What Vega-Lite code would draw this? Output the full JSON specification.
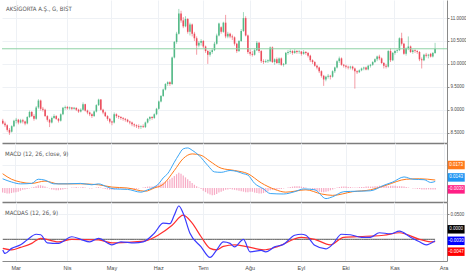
{
"$schema": "https://vega.github.io/schema/vega-lite/v6.json",
"padding": 0,
"spacing": 0,
"background": "#ffffff",
"config": {
  "view": {"stroke": null},
  "font": "Liberation Sans Narrow, DejaVu Sans Condensed, Arial Narrow, sans-serif",
  "title": {"fontSize": 6, "fontWeight": "normal", "color": "#555555", "anchor": "start", "frame": "group"},
  "axis": {"labelFont": "Liberation Sans, Arial, sans-serif", "labelOverlap": false, "labelBound": false, "labelFlush": false},
  "text": {"font": "Liberation Sans, Arial, sans-serif"}
},
"datasets": {
"px": [
{"d":"2017-02-21","o":8.76,"h":8.80,"l":8.68,"c":8.70,"hi":-0.010,"m":0.020,"s":0.031,"a":-0.021,"b":-0.018},
{"d":"2017-02-22","o":8.70,"h":8.74,"l":8.62,"c":8.66,"hi":-0.011,"a":-0.028},
{"d":"2017-02-23","o":8.66,"h":8.68,"l":8.52,"c":8.56,"hi":-0.012},
{"d":"2017-02-24","o":8.56,"h":8.60,"l":8.45,"c":8.50,"hi":-0.012},
{"d":"2017-02-27","o":8.52,"h":8.66,"l":8.50,"c":8.64,"hi":-0.011,"m":0.013,"s":0.019,"a":-0.018,"b":-0.021},
{"d":"2017-02-28","o":8.64,"h":8.78,"l":8.62,"c":8.76,"hi":-0.010},
{"d":"2017-03-01","o":8.76,"h":8.82,"l":8.70,"c":8.78,"hi":-0.009},
{"d":"2017-03-02","o":8.78,"h":8.80,"l":8.68,"c":8.72,"hi":-0.008},
{"d":"2017-03-03","o":8.72,"h":8.80,"l":8.70,"c":8.77,"hi":-0.006,"m":0.009,"s":0.013,"a":-0.011,"b":-0.016},
{"d":"2017-03-06","o":8.77,"h":8.80,"l":8.70,"c":8.74,"hi":-0.004},
{"d":"2017-03-07","o":8.74,"h":8.76,"l":8.66,"c":8.70,"hi":-0.003},
{"d":"2017-03-08","o":8.70,"h":8.86,"l":8.68,"c":8.84,"hi":-0.002,"a":-0.001},
{"d":"2017-03-09","o":8.84,"h":8.98,"l":8.82,"c":8.95,"hi":-0.001},
{"d":"2017-03-10","o":8.95,"h":8.97,"l":8.84,"c":8.86,"hi":0.001,"m":0.010,"s":0.010,"b":-0.008},
{"d":"2017-03-13","o":8.86,"h":8.90,"l":8.76,"c":8.80,"hi":0.002},
{"d":"2017-03-14","o":8.80,"h":9.08,"l":8.78,"c":9.05,"hi":0.004,"a":0.010},
{"d":"2017-03-15","o":9.05,"h":9.23,"l":9.02,"c":9.20,"hi":0.006,"m":0.019},
{"d":"2017-03-16","o":9.20,"h":9.22,"l":8.98,"c":9.02,"hi":0.006,"a":0.009,"b":0.002},
{"d":"2017-03-17","o":9.02,"h":9.06,"l":8.96,"c":9.00,"hi":0.005},
{"d":"2017-03-20","o":9.00,"h":9.02,"l":8.84,"c":8.86,"hi":0.003,"m":0.017,"s":0.015},
{"d":"2017-03-21","o":8.86,"h":8.88,"l":8.74,"c":8.78,"hi":0.001,"a":-0.007},
{"d":"2017-03-22","o":8.78,"h":8.80,"l":8.62,"c":8.72,"hi":-0.001},
{"d":"2017-03-23","o":8.72,"h":8.85,"l":8.70,"c":8.82,"hi":-0.003},
{"d":"2017-03-24","o":8.82,"h":8.90,"l":8.80,"c":8.86,"hi":-0.004,"m":0.009},
{"d":"2017-03-27","o":8.86,"h":8.88,"l":8.78,"c":8.80,"hi":-0.005},
{"d":"2017-03-28","o":8.80,"h":8.82,"l":8.72,"c":8.76,"hi":-0.005,"s":0.009,"a":-0.008,"b":-0.005},
{"d":"2017-03-29","o":8.76,"h":8.92,"l":8.74,"c":8.90,"hi":-0.004},
{"d":"2017-03-30","o":8.90,"h":9.06,"l":8.88,"c":9.04,"hi":-0.003},
{"d":"2017-03-31","o":9.04,"h":9.09,"l":9.00,"c":9.06,"hi":-0.002},
{"d":"2017-04-03","o":9.06,"h":9.08,"l":9.00,"c":9.03,"hi":-0.001,"m":0.009},
{"d":"2017-04-04","o":9.03,"h":9.07,"l":9.00,"c":9.05,"hi":0.000},
{"d":"2017-04-05","o":9.05,"h":9.06,"l":8.99,"c":9.02,"hi":0.001,"a":0.005,"b":0.000},
{"d":"2017-04-06","o":9.02,"h":9.06,"l":9.00,"c":9.04,"hi":0.001},
{"d":"2017-04-07","o":9.04,"h":9.05,"l":8.97,"c":9.00,"hi":0.002},
{"d":"2017-04-10","o":9.00,"h":9.02,"l":8.93,"c":8.96,"hi":0.001},
{"d":"2017-04-11","o":8.96,"h":9.03,"l":8.94,"c":9.00,"hi":0.001,"m":0.010,"s":0.009,"a":0.000},
{"d":"2017-04-12","o":9.00,"h":9.16,"l":8.98,"c":9.12,"hi":0.002},
{"d":"2017-04-13","o":9.12,"h":9.13,"l":8.96,"c":8.98,"hi":0.001},
{"d":"2017-04-14","o":8.98,"h":9.00,"l":8.90,"c":8.94,"hi":0.000},
{"d":"2017-04-17","o":8.94,"h":8.96,"l":8.86,"c":8.90,"hi":-0.001,"a":-0.005},
{"d":"2017-04-18","o":8.90,"h":8.92,"l":8.82,"c":8.86,"hi":-0.001,"m":0.007},
{"d":"2017-04-19","o":8.86,"h":8.98,"l":8.84,"c":8.96,"hi":0.000},
{"d":"2017-04-20","o":8.96,"h":9.12,"l":8.94,"c":9.10,"hi":0.001},
{"d":"2017-04-21","o":9.10,"h":9.24,"l":9.08,"c":9.22,"hi":0.002,"m":0.009,"s":0.007,"a":0.002,"b":-0.001},
{"d":"2017-04-24","o":9.22,"h":9.23,"l":8.98,"c":9.00,"hi":0.001},
{"d":"2017-04-25","o":9.00,"h":9.02,"l":8.90,"c":8.94,"hi":-0.001},
{"d":"2017-04-26","o":8.94,"h":8.96,"l":8.84,"c":8.86,"hi":-0.002},
{"d":"2017-04-27","o":8.86,"h":8.88,"l":8.76,"c":8.80,"hi":-0.003,"m":0.002},
{"d":"2017-04-28","o":8.80,"h":8.82,"l":8.70,"c":8.74,"hi":-0.004},
{"d":"2017-05-02","o":8.74,"h":8.76,"l":8.66,"c":8.72,"hi":-0.004,"s":0.002,"a":-0.011,"b":-0.007},
{"d":"2017-05-03","o":8.72,"h":8.94,"l":8.70,"c":8.90,"hi":-0.003,"m":-0.002},
{"d":"2017-05-04","o":8.90,"h":8.92,"l":8.82,"c":8.86,"hi":-0.002},
{"d":"2017-05-05","o":8.86,"h":8.88,"l":8.80,"c":8.84,"hi":-0.002},
{"d":"2017-05-08","o":8.84,"h":8.86,"l":8.78,"c":8.82,"hi":-0.001,"a":-0.005},
{"d":"2017-05-09","o":8.82,"h":8.84,"l":8.76,"c":8.80,"hi":-0.001},
{"d":"2017-05-10","o":8.80,"h":8.82,"l":8.74,"c":8.78,"hi":-0.001},
{"d":"2017-05-11","o":8.78,"h":8.80,"l":8.72,"c":8.74,"hi":-0.001,"m":-0.003,"s":0.000},
{"d":"2017-05-12","o":8.74,"h":8.76,"l":8.68,"c":8.72,"hi":-0.002},
{"d":"2017-05-15","o":8.72,"h":8.74,"l":8.64,"c":8.68,"hi":-0.002},
{"d":"2017-05-16","o":8.68,"h":8.70,"l":8.62,"c":8.66,"hi":-0.002,"a":-0.007,"b":-0.005},
{"d":"2017-05-17","o":8.66,"h":8.68,"l":8.60,"c":8.64,"hi":-0.002},
{"d":"2017-05-18","o":8.64,"h":8.68,"l":8.58,"c":8.62,"hi":-0.001},
{"d":"2017-05-22","o":8.62,"h":8.66,"l":8.58,"c":8.64,"hi":0.000,"m":-0.009},
{"d":"2017-05-23","o":8.64,"h":8.68,"l":8.60,"c":8.62,"hi":0.001,"a":-0.005},
{"d":"2017-05-24","o":8.62,"h":8.74,"l":8.60,"c":8.72,"hi":0.002,"s":-0.007,"b":-0.003},
{"d":"2017-05-25","o":8.72,"h":8.82,"l":8.70,"c":8.80,"hi":0.003,"m":-0.004},
{"d":"2017-05-26","o":8.80,"h":8.86,"l":8.76,"c":8.84,"hi":0.003},
{"d":"2017-05-29","o":8.84,"h":8.86,"l":8.78,"c":8.82,"hi":0.003},
{"d":"2017-05-30","o":8.82,"h":8.92,"l":8.80,"c":8.90,"hi":0.004,"m":0.002,"s":0.000,"a":0.012},
{"d":"2017-05-31","o":8.90,"h":9.04,"l":8.88,"c":9.02,"hi":0.006},
{"d":"2017-06-01","o":9.02,"h":9.20,"l":9.00,"c":9.18,"hi":0.008,"m":0.009,"b":0.009},
{"d":"2017-06-02","o":9.18,"h":9.32,"l":9.16,"c":9.30,"hi":0.010},
{"d":"2017-06-05","o":9.30,"h":9.46,"l":9.28,"c":9.44,"hi":0.012,"m":0.022,"s":0.008,"a":0.032},
{"d":"2017-06-06","o":9.44,"h":9.58,"l":9.42,"c":9.56,"hi":0.014},
{"d":"2017-06-07","o":9.56,"h":9.62,"l":9.52,"c":9.60,"hi":0.016,"m":0.031},
{"d":"2017-06-08","o":9.60,"h":9.62,"l":9.52,"c":9.56,"hi":0.019,"a":0.031},
{"d":"2017-06-09","o":9.56,"h":10.16,"l":9.54,"c":10.14,"hi":0.022,"b":0.028},
{"d":"2017-06-12","o":10.14,"h":10.50,"l":10.12,"c":10.48,"hi":0.026,"m":0.056,"s":0.038,"a":0.048},
{"d":"2017-06-13","o":10.48,"h":10.70,"l":10.44,"c":10.66,"hi":0.030},
{"d":"2017-06-14","o":10.66,"h":11.20,"l":10.64,"c":11.10,"hi":0.033,"m":0.072,"a":0.066},
{"d":"2017-06-15","o":11.10,"h":11.16,"l":10.90,"c":10.95,"hi":0.031},
{"d":"2017-06-16","o":10.95,"h":11.02,"l":10.78,"c":10.82,"hi":0.027,"m":0.085,"s":0.064,"a":0.051,"b":0.048},
{"d":"2017-06-19","o":10.82,"h":11.04,"l":10.80,"c":10.98,"hi":0.023},
{"d":"2017-06-20","o":10.98,"h":11.00,"l":10.66,"c":10.70,"hi":0.019,"m":0.087},
{"d":"2017-06-21","o":10.70,"h":10.90,"l":10.62,"c":10.86,"hi":0.015,"a":0.012},
{"d":"2017-06-22","o":10.86,"h":10.88,"l":10.60,"c":10.66,"hi":0.011,"m":0.082,"s":0.074,"b":0.032},
{"d":"2017-06-23","o":10.66,"h":10.70,"l":10.50,"c":10.56,"hi":0.007},
{"d":"2017-06-28","o":10.56,"h":10.60,"l":10.20,"c":10.40,"hi":0.004},
{"d":"2017-06-29","o":10.40,"h":10.50,"l":10.36,"c":10.46,"hi":0.001,"m":0.071},
{"d":"2017-06-30","o":10.46,"h":10.54,"l":10.40,"c":10.50,"hi":-0.002,"s":0.071,"a":-0.015,"b":0.005},
{"d":"2017-07-03","o":10.50,"h":10.52,"l":10.34,"c":10.38,"hi":-0.006},
{"d":"2017-07-04","o":10.38,"h":10.40,"l":10.24,"c":10.28,"hi":-0.009},
{"d":"2017-07-05","o":10.28,"h":10.30,"l":10.00,"c":10.20,"hi":-0.012,"m":0.049},
{"d":"2017-07-06","o":10.20,"h":10.30,"l":10.16,"c":10.26,"hi":-0.014,"s":0.058,"a":-0.036,"b":-0.018},
{"d":"2017-07-07","o":10.26,"h":10.34,"l":10.22,"c":10.30,"hi":-0.016},
{"d":"2017-07-10","o":10.30,"h":10.48,"l":10.28,"c":10.44,"hi":-0.015,"m":0.035},
{"d":"2017-07-11","o":10.44,"h":10.66,"l":10.42,"c":10.62,"hi":-0.013,"a":-0.021,"b":-0.021},
{"d":"2017-07-12","o":10.62,"h":10.90,"l":10.60,"c":10.88,"hi":-0.010},
{"d":"2017-07-13","o":10.80,"h":10.82,"l":10.66,"c":10.70,"hi":-0.008,"m":0.034,"s":0.043},
{"d":"2017-07-14","o":10.70,"h":10.92,"l":10.68,"c":10.90,"hi":-0.006,"a":-0.005,"b":-0.014},
{"d":"2017-07-17","o":10.90,"h":11.07,"l":10.56,"c":10.60,"hi":-0.004},
{"d":"2017-07-18","o":10.60,"h":10.70,"l":10.56,"c":10.66,"hi":-0.003},
{"d":"2017-07-19","o":10.66,"h":10.68,"l":10.56,"c":10.60,"hi":-0.002,"m":0.038,"a":-0.008},
{"d":"2017-07-20","o":10.60,"h":10.64,"l":10.52,"c":10.58,"hi":-0.003},
{"d":"2017-07-21","o":10.58,"h":10.60,"l":10.40,"c":10.44,"hi":-0.004,"s":0.038,"a":-0.015,"b":-0.011},
{"d":"2017-07-24","o":10.44,"h":10.46,"l":10.24,"c":10.28,"hi":-0.005,"m":0.036},
{"d":"2017-07-25","o":10.28,"h":10.52,"l":10.26,"c":10.50,"hi":-0.006},
{"d":"2017-07-26","o":10.50,"h":10.76,"l":10.48,"c":10.72,"hi":-0.007},
{"d":"2017-07-27","o":10.72,"h":11.13,"l":10.70,"c":11.00,"hi":-0.008,"m":0.031,"a":0.000},
{"d":"2017-07-28","o":11.00,"h":11.04,"l":10.60,"c":10.62,"hi":-0.009},
{"d":"2017-07-31","o":10.62,"h":10.64,"l":10.22,"c":10.26,"hi":-0.009,"m":0.028,"s":0.031,"b":-0.015},
{"d":"2017-08-01","o":10.26,"h":10.32,"l":10.18,"c":10.22,"hi":-0.008,"a":-0.025},
{"d":"2017-08-02","o":10.22,"h":10.28,"l":10.16,"c":10.20,"hi":-0.008},
{"d":"2017-08-03","o":10.20,"h":10.34,"l":10.18,"c":10.30,"hi":-0.010,"m":0.010},
{"d":"2017-08-04","o":10.30,"h":10.50,"l":10.28,"c":10.46,"hi":-0.011},
{"d":"2017-08-07","o":10.46,"h":10.48,"l":10.24,"c":10.28,"hi":-0.012},
{"d":"2017-08-08","o":10.28,"h":10.30,"l":10.02,"c":10.06,"hi":-0.012,"s":0.011,"a":-0.022},
{"d":"2017-08-09","o":10.06,"h":10.10,"l":10.00,"c":10.04,"hi":-0.011,"m":-0.002,"b":-0.021},
{"d":"2017-08-10","o":10.04,"h":10.10,"l":10.02,"c":10.06,"hi":-0.009,"a":-0.025},
{"d":"2017-08-11","o":10.06,"h":10.10,"l":10.02,"c":10.08,"hi":-0.007},
{"d":"2017-08-14","o":10.06,"h":10.38,"l":10.04,"c":10.36,"hi":-0.005,"m":-0.012},
{"d":"2017-08-15","o":10.36,"h":10.38,"l":10.02,"c":10.04,"hi":-0.004},
{"d":"2017-08-16","o":10.04,"h":10.12,"l":9.98,"c":10.10,"hi":-0.003,"s":-0.003,"a":-0.015},
{"d":"2017-08-17","o":10.10,"h":10.14,"l":10.00,"c":10.02,"hi":-0.003,"b":-0.015},
{"d":"2017-08-18","o":10.02,"h":10.14,"l":9.98,"c":10.12,"hi":-0.002},
{"d":"2017-08-21","o":10.12,"h":10.14,"l":9.96,"c":9.98,"hi":-0.002},
{"d":"2017-08-22","o":9.98,"h":10.02,"l":9.94,"c":10.00,"hi":-0.001,"m":-0.013,"a":-0.010},
{"d":"2017-08-23","o":10.00,"h":10.26,"l":9.98,"c":10.24,"hi":0.000,"s":-0.009},
{"d":"2017-08-24","o":10.24,"h":10.30,"l":10.20,"c":10.26,"hi":0.001},
{"d":"2017-08-25","o":10.26,"h":10.32,"l":10.22,"c":10.28,"hi":0.002},
{"d":"2017-08-28","o":10.28,"h":10.30,"l":10.20,"c":10.24,"hi":0.003},
{"d":"2017-08-29","o":10.24,"h":10.32,"l":10.22,"c":10.28,"hi":0.004,"m":-0.008,"a":0.008},
{"d":"2017-08-30","o":10.28,"h":10.30,"l":10.22,"c":10.26,"hi":0.004},
{"d":"2017-08-31","o":10.26,"h":10.30,"l":10.22,"c":10.27,"hi":0.004},
{"d":"2017-09-04","o":10.27,"h":10.28,"l":10.18,"c":10.22,"hi":0.003,"a":0.010,"b":0.004},
{"d":"2017-09-05","o":10.22,"h":10.30,"l":10.20,"c":10.26,"hi":0.002,"m":-0.002},
{"d":"2017-09-06","o":10.26,"h":10.28,"l":10.20,"c":10.24,"hi":0.001,"s":-0.004,"a":0.008},
{"d":"2017-09-07","o":10.24,"h":10.26,"l":10.14,"c":10.18,"hi":0.000},
{"d":"2017-09-08","o":10.18,"h":10.20,"l":10.04,"c":10.08,"hi":-0.001},
{"d":"2017-09-11","o":10.08,"h":10.10,"l":10.00,"c":10.04,"hi":-0.003},
{"d":"2017-09-12","o":10.04,"h":10.06,"l":9.94,"c":9.96,"hi":-0.005,"m":-0.004,"a":-0.012,"b":0.000},
{"d":"2017-09-13","o":9.96,"h":9.98,"l":9.88,"c":9.92,"hi":-0.007},
{"d":"2017-09-14","o":9.92,"h":9.94,"l":9.80,"c":9.84,"hi":-0.008},
{"d":"2017-09-15","o":9.84,"h":9.86,"l":9.70,"c":9.74,"hi":-0.009,"s":-0.013},
{"d":"2017-09-18","o":9.74,"h":9.76,"l":9.52,"c":9.66,"hi":-0.009},
{"d":"2017-09-19","o":9.66,"h":9.74,"l":9.62,"c":9.72,"hi":-0.008,"m":-0.023,"a":-0.019},
{"d":"2017-09-20","o":9.72,"h":9.78,"l":9.68,"c":9.74,"hi":-0.007},
{"d":"2017-09-21","o":9.74,"h":9.76,"l":9.66,"c":9.72,"hi":-0.005,"b":-0.011},
{"d":"2017-09-22","o":9.72,"h":9.86,"l":9.70,"c":9.84,"hi":-0.003,"m":-0.019,"s":-0.016,"a":-0.010},
{"d":"2017-09-25","o":9.84,"h":9.94,"l":9.80,"c":9.92,"hi":-0.001},
{"d":"2017-09-26","o":9.92,"h":10.08,"l":9.90,"c":10.06,"hi":0.001},
{"d":"2017-09-27","o":10.06,"h":10.16,"l":10.02,"c":10.12,"hi":0.002},
{"d":"2017-09-28","o":10.12,"h":10.14,"l":9.96,"c":9.98,"hi":0.003,"a":0.010},
{"d":"2017-09-29","o":9.98,"h":10.00,"l":9.92,"c":9.96,"hi":0.003,"m":-0.008,"b":0.004},
{"d":"2017-10-02","o":9.96,"h":9.98,"l":9.90,"c":9.94,"hi":0.003},
{"d":"2017-10-03","o":9.94,"h":9.96,"l":9.88,"c":9.92,"hi":0.002},
{"d":"2017-10-04","o":9.92,"h":9.96,"l":9.88,"c":9.94,"hi":0.002,"a":0.009},
{"d":"2017-10-05","o":9.94,"h":9.96,"l":9.86,"c":9.90,"hi":0.001,"s":-0.008},
{"d":"2017-10-06","o":9.90,"h":9.92,"l":9.46,"c":9.84,"hi":0.001},
{"d":"2017-10-09","o":9.84,"h":9.86,"l":9.78,"c":9.82,"hi":0.001,"m":-0.007},
{"d":"2017-10-10","o":9.82,"h":9.88,"l":9.80,"c":9.86,"hi":0.002},
{"d":"2017-10-11","o":9.86,"h":9.92,"l":9.84,"c":9.90,"hi":0.002,"a":0.004},
{"d":"2017-10-12","o":9.90,"h":9.94,"l":9.86,"c":9.92,"hi":0.002},
{"d":"2017-10-13","o":9.92,"h":9.94,"l":9.86,"c":9.88,"hi":0.003,"b":0.006},
{"d":"2017-10-16","o":9.88,"h":9.98,"l":9.86,"c":9.96,"hi":0.003},
{"d":"2017-10-17","o":9.96,"h":10.00,"l":9.92,"c":9.98,"hi":0.003,"m":-0.006,"s":-0.004,"a":0.004},
{"d":"2017-10-18","o":9.98,"h":10.06,"l":9.96,"c":10.04,"hi":0.003},
{"d":"2017-10-19","o":10.04,"h":10.12,"l":10.02,"c":10.10,"hi":0.004},
{"d":"2017-10-20","o":10.10,"h":10.18,"l":10.06,"c":10.16,"hi":0.004},
{"d":"2017-10-23","o":10.16,"h":10.20,"l":10.08,"c":10.12,"hi":0.005,"a":0.013},
{"d":"2017-10-24","o":10.12,"h":10.14,"l":10.00,"c":10.02,"hi":0.005},
{"d":"2017-10-25","o":10.02,"h":10.04,"l":9.90,"c":9.96,"hi":0.005,"m":0.006,"b":0.008},
{"d":"2017-10-26","o":9.96,"h":10.00,"l":9.90,"c":9.94,"hi":0.005,"s":0.006},
{"d":"2017-10-27","o":9.94,"h":10.30,"l":9.92,"c":10.28,"hi":0.004},
{"d":"2017-10-30","o":10.28,"h":10.34,"l":10.04,"c":10.08,"hi":0.005,"a":0.011},
{"d":"2017-10-31","o":10.08,"h":10.26,"l":10.06,"c":10.24,"hi":0.005,"m":0.013},
{"d":"2017-11-01","o":10.24,"h":10.30,"l":10.20,"c":10.28,"hi":0.005},
{"d":"2017-11-02","o":10.28,"h":10.32,"l":10.24,"c":10.30,"hi":0.004},
{"d":"2017-11-03","o":10.30,"h":10.58,"l":10.28,"c":10.56,"hi":0.004,"a":0.016,"b":0.013},
{"d":"2017-11-06","o":10.56,"h":10.68,"l":10.40,"c":10.44,"hi":0.004},
{"d":"2017-11-07","o":10.44,"h":10.46,"l":10.20,"c":10.22,"hi":0.003,"m":0.024},
{"d":"2017-11-08","o":10.22,"h":10.36,"l":10.18,"c":10.34,"hi":0.002,"s":0.019},
{"d":"2017-11-09","o":10.34,"h":10.60,"l":10.30,"c":10.38,"hi":0.001},
{"d":"2017-11-10","o":10.38,"h":10.40,"l":10.24,"c":10.26,"hi":0.000,"a":0.004},
{"d":"2017-11-13","o":10.26,"h":10.32,"l":10.22,"c":10.30,"hi":-0.001,"m":0.019},
{"d":"2017-11-14","o":10.30,"h":10.32,"l":10.24,"c":10.28,"hi":-0.001},
{"d":"2017-11-15","o":10.28,"h":10.30,"l":10.22,"c":10.26,"hi":-0.002},
{"d":"2017-11-16","o":10.26,"h":10.28,"l":10.06,"c":10.10,"hi":-0.002,"s":0.020,"a":-0.005,"b":0.000},
{"d":"2017-11-17","o":10.10,"h":10.14,"l":9.90,"c":10.08,"hi":-0.003},
{"d":"2017-11-20","o":10.08,"h":10.22,"l":10.06,"c":10.20,"hi":-0.003,"m":0.018},
{"d":"2017-11-21","o":10.20,"h":10.24,"l":10.14,"c":10.18,"hi":-0.003,"a":-0.011},
{"d":"2017-11-22","o":10.18,"h":10.22,"l":10.12,"c":10.20,"hi":-0.003},
{"d":"2017-11-23","o":10.22,"h":10.24,"l":10.14,"c":10.16,"hi":-0.003,"m":0.012,"b":-0.005},
{"d":"2017-11-24","o":10.16,"h":10.26,"l":10.14,"c":10.24,"hi":-0.003},
{"d":"2017-11-27","o":10.24,"h":10.46,"l":10.22,"c":10.33,"hi":-0.003,"m":0.0143,"s":0.0173,"a":-0.003,"b":-0.0047}
]
},
"vconcat": [
{
  "width": 445, "height": 143,
  "title": {"text": "AKSİGORTA A.Ş., G, BIST", "offset": -12, "dx": 4},
  "data": {"name": "px"},
  "layer": [
    {
      "mark": {"type": "rule", "strokeWidth": 1, "opacity": 0.55},
      "encoding": {
        "x": {"field": "d", "type": "ordinal", "title": null,
              "scale": {"type": "band", "paddingInner": 0.3, "paddingOuter": 0, "domain": {"unionWith": ["2017-11-28","2017-11-29","2017-11-30","2017-12-01","2017-12-04"]}},
              "axis": {"values": ["2017-03-01","2017-04-03","2017-05-02","2017-06-01","2017-07-03","2017-08-01","2017-09-04","2017-10-02","2017-11-01","2017-12-01"],
                       "labels": false, "ticks": false, "domain": true, "domainColor": "#7d7d7d", "domainWidth": 1.5,
                       "grid": true, "gridColor": "#eef1f5", "title": null}},
        "y": {"field": "l", "type": "quantitative", "title": null,
              "scale": {"domain": [8.273, 11.395], "nice": false, "zero": false},
              "axis": {"orient": "right", "values": [8.5, 9, 9.5, 10, 10.5, 11], "tickCount": 12, "format": ".4f", "labelOverlap": false,
                       "labelFontSize": 4.5, "labelColor": "#4a4a4a", "tickSize": 2, "tickColor": "#8a8a8a",
                       "domainColor": "#8a8a8a", "labelPadding": 1, "grid": true, "gridColor": "#eef1f5",
                       "title": null, "minExtent": 21, "maxExtent": 21}},
        "y2": {"field": "h"},
        "color": {"condition": {"test": "datum.c >= datum.o", "value": "#53b987"}, "value": "#eb4d5c"}
      }
    },
    {
      "mark": {"type": "bar"},
      "encoding": {
        "x": {"field": "d", "type": "ordinal", "title": null},
        "y": {"field": "o", "type": "quantitative", "title": null,
              "scale": {"domain": [8.273, 11.395], "nice": false, "zero": false}},
        "y2": {"field": "c"},
        "color": {"condition": {"test": "datum.c >= datum.o", "value": "#53b987"}, "value": "#eb4d5c"}
      }
    },
    {
      "data": {"values": [{"p": 10.33}]},
      "mark": {"type": "rule", "color": "#8fd3a6", "strokeWidth": 1},
      "encoding": {
        "y": {"field": "p", "type": "quantitative", "title": null,
              "scale": {"domain": [8.273, 11.395], "nice": false, "zero": false}}
      }
    }
  ]
},
{
  "width": 445, "height": 59,
  "title": {"text": "MACD (12, 26, close, 9)", "offset": -14, "dx": 3},
  "data": {"name": "px"},
  "layer": [
    {
      "mark": {"type": "bar", "color": "#f48fb1", "opacity": 0.75},
      "encoding": {
        "x": {"field": "d", "type": "ordinal", "title": null,
              "scale": {"type": "band", "paddingInner": 0.45, "paddingOuter": 0, "domain": {"unionWith": ["2017-11-28","2017-11-29","2017-11-30","2017-12-01","2017-12-04"]}},
              "axis": {"values": ["2017-03-01","2017-04-03","2017-05-02","2017-06-01","2017-07-03","2017-08-01","2017-09-04","2017-10-02","2017-11-01","2017-12-01"],
                       "labels": false, "ticks": false, "domain": true, "domainColor": "#7d7d7d", "domainWidth": 1.5,
                       "grid": true, "gridColor": "#eef1f5", "title": null}},
        "y": {"field": "hi", "type": "quantitative", "title": null,
              "scale": {"domain": [-0.0304, 0.0977], "nice": false, "zero": false},
              "axis": {"orient": "right", "values": [0.05], "labels": false, "ticks": false,
                       "domainColor": "#8a8a8a", "grid": true, "gridColor": "#eef1f5",
                       "title": null, "minExtent": 21, "maxExtent": 21}},
        "y2": {"datum": 0}
      }
    },
    {
      "transform": [{"filter": "isValid(datum.s)"}],
      "mark": {"type": "line", "color": "#ff7a1a", "strokeWidth": 1, "interpolate": "monotone"},
      "encoding": {
        "x": {"field": "d", "type": "ordinal", "title": null},
        "y": {"field": "s", "type": "quantitative", "title": null,
              "scale": {"domain": [-0.0304, 0.0977], "nice": false, "zero": false}}
      }
    },
    {
      "transform": [{"filter": "isValid(datum.m)"}],
      "mark": {"type": "line", "color": "#3aa6f5", "strokeWidth": 1, "interpolate": "monotone"},
      "encoding": {
        "x": {"field": "d", "type": "ordinal", "title": null},
        "y": {"field": "m", "type": "quantitative", "title": null,
              "scale": {"domain": [-0.0304, 0.0977], "nice": false, "zero": false}}
      }
    },
    {
      "data": {"values": [{"d": "2017-11-27", "v": 0.0173, "t": "0.0173"}]},
      "layer": [
        {"mark": {"type": "point", "shape": "M-1,-0.5H1V0.5H-1Z", "size": 289, "filled": true, "opacity": 1, "color": "#ff7a1a", "xOffset": 21, "yOffset": -15}},
        {"mark": {"type": "text", "color": "#ffffff", "fontSize": 4.5, "dx": 21, "dy": -15, "align": "center", "baseline": "middle"}, "encoding": {"text": {"field": "t"}}}
      ],
      "encoding": {
        "x": {"field": "d", "type": "ordinal", "title": null},
        "y": {"field": "v", "type": "quantitative", "title": null, "scale": {"domain": [-0.0304, 0.0977], "nice": false, "zero": false}}
      }
    },
    {
      "data": {"values": [{"d": "2017-11-27", "v": 0.0143, "t": "0.0143"}]},
      "layer": [
        {"mark": {"type": "point", "shape": "M-1,-0.5H1V0.5H-1Z", "size": 289, "filled": true, "opacity": 1, "color": "#2196f3", "xOffset": 21, "yOffset": -4}},
        {"mark": {"type": "text", "color": "#ffffff", "fontSize": 4.5, "dx": 21, "dy": -4, "align": "center", "baseline": "middle"}, "encoding": {"text": {"field": "t"}}}
      ],
      "encoding": {
        "x": {"field": "d", "type": "ordinal", "title": null},
        "y": {"field": "v", "type": "quantitative", "title": null, "scale": {"domain": [-0.0304, 0.0977], "nice": false, "zero": false}}
      }
    },
    {
      "data": {"values": [{"d": "2017-11-27", "v": -0.003, "t": "-0.0030"}]},
      "layer": [
        {"mark": {"type": "point", "shape": "M-1,-0.5H1V0.5H-1Z", "size": 289, "filled": true, "opacity": 1, "color": "#ff1f85", "xOffset": 21, "yOffset": 0}},
        {"mark": {"type": "text", "color": "#ffffff", "fontSize": 4.5, "dx": 21, "dy": 0, "align": "center", "baseline": "middle"}, "encoding": {"text": {"field": "t"}}}
      ],
      "encoding": {
        "x": {"field": "d", "type": "ordinal", "title": null},
        "y": {"field": "v", "type": "quantitative", "title": null, "scale": {"domain": [-0.0304, 0.0977], "nice": false, "zero": false}}
      }
    }
  ]
},
{
  "width": 445, "height": 59,
  "title": {"text": "MACDAS (12, 26, 9)", "offset": -14, "dx": 3},
  "data": {"name": "px"},
  "layer": [
    {
      "mark": {"type": "line", "color": "#555555", "strokeWidth": 1},
      "encoding": {
        "x": {"field": "d", "type": "ordinal", "title": null,
              "scale": {"type": "band", "paddingInner": 0.3, "paddingOuter": 0, "domain": {"unionWith": ["2017-11-28","2017-11-29","2017-11-30","2017-12-01","2017-12-04"]}},
              "axis": {"values": ["2017-03-01","2017-04-03","2017-05-02","2017-06-01","2017-07-03","2017-08-01","2017-09-04","2017-10-02","2017-11-01","2017-12-01"],
                       "labelExpr": "['Oca','Şub','Mar','Nis','May','Haz','Tem','Ağu','Eyl','Eki','Kas','Ara'][toNumber(slice(datum.value,5,7))-1]",
                       "labelFontSize": 5.5, "labelColor": "#4a4a4a", "labelPadding": 4, "labelAngle": 0, "labelOverlap": false,
                       "ticks": false, "domain": true, "domainColor": "#8a8a8a", "domainWidth": 1,
                       "grid": true, "gridColor": "#eef1f5", "title": null}},
        "y": {"datum": 0, "type": "quantitative", "title": null,
              "scale": {"domain": [-0.043, 0.0739], "nice": false, "zero": false},
              "axis": {"orient": "right", "values": [0.05], "tickCount": 5, "format": ".4f", "labelFontSize": 4.5, "labelColor": "#4a4a4a",
                       "tickSize": 2, "tickColor": "#8a8a8a", "labelPadding": 1, "labelOverlap": false,
                       "domainColor": "#8a8a8a", "grid": true, "gridColor": "#eef1f5",
                       "title": null, "minExtent": 21, "maxExtent": 21}}
      }
    },
    {
      "transform": [{"filter": "isValid(datum.b)"}],
      "mark": {"type": "line", "color": "#ff3030", "strokeWidth": 1.2, "interpolate": "monotone"},
      "encoding": {
        "x": {"field": "d", "type": "ordinal", "title": null},
        "y": {"field": "b", "type": "quantitative", "title": null,
              "scale": {"domain": [-0.043, 0.0739], "nice": false, "zero": false}}
      }
    },
    {
      "transform": [{"filter": "isValid(datum.a)"}],
      "mark": {"type": "line", "color": "#3b3bff", "strokeWidth": 1.2, "interpolate": "monotone"},
      "encoding": {
        "x": {"field": "d", "type": "ordinal", "title": null},
        "y": {"field": "a", "type": "quantitative", "title": null,
              "scale": {"domain": [-0.043, 0.0739], "nice": false, "zero": false}}
      }
    },
    {
      "data": {"values": [{"d": "2017-11-27", "v": 0, "t": "0.0000"}]},
      "layer": [
        {"mark": {"type": "point", "shape": "M-1,-0.5H1V0.5H-1Z", "size": 289, "filled": true, "opacity": 1, "color": "#000000", "xOffset": 21, "yOffset": -10}},
        {"mark": {"type": "text", "color": "#ffffff", "fontSize": 4.5, "dx": 21, "dy": -10, "align": "center", "baseline": "middle"}, "encoding": {"text": {"field": "t"}}}
      ],
      "encoding": {
        "x": {"field": "d", "type": "ordinal", "title": null},
        "y": {"field": "v", "type": "quantitative", "title": null, "scale": {"domain": [-0.043, 0.0739], "nice": false, "zero": false}}
      }
    },
    {
      "data": {"values": [{"d": "2017-11-27", "v": -0.003, "t": "-0.0030"}]},
      "layer": [
        {"mark": {"type": "point", "shape": "M-1,-0.5H1V0.5H-1Z", "size": 289, "filled": true, "opacity": 1, "color": "#0000ff", "xOffset": 21, "yOffset": 0}},
        {"mark": {"type": "text", "color": "#ffffff", "fontSize": 4.5, "dx": 21, "dy": 0, "align": "center", "baseline": "middle"}, "encoding": {"text": {"field": "t"}}}
      ],
      "encoding": {
        "x": {"field": "d", "type": "ordinal", "title": null},
        "y": {"field": "v", "type": "quantitative", "title": null, "scale": {"domain": [-0.043, 0.0739], "nice": false, "zero": false}}
      }
    },
    {
      "data": {"values": [{"d": "2017-11-27", "v": -0.0047, "t": "-0.0047"}]},
      "layer": [
        {"mark": {"type": "point", "shape": "M-1,-0.5H1V0.5H-1Z", "size": 289, "filled": true, "opacity": 1, "color": "#ff0000", "xOffset": 21, "yOffset": 10}},
        {"mark": {"type": "text", "color": "#ffffff", "fontSize": 4.5, "dx": 21, "dy": 10, "align": "center", "baseline": "middle"}, "encoding": {"text": {"field": "t"}}}
      ],
      "encoding": {
        "x": {"field": "d", "type": "ordinal", "title": null},
        "y": {"field": "v", "type": "quantitative", "title": null, "scale": {"domain": [-0.043, 0.0739], "nice": false, "zero": false}}
      }
    }
  ]
}
]
}
